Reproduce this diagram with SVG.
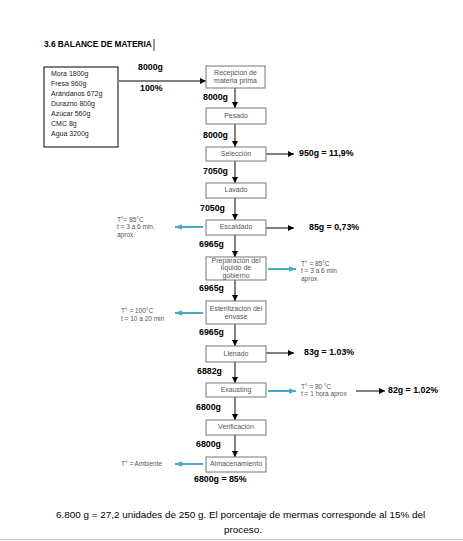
<svg xmlns="http://www.w3.org/2000/svg" width="463" height="541" viewBox="0 0 463 541">
<defs>
<marker id="ah" viewBox="0 0 10 10" refX="10" refY="5" markerWidth="6" markerHeight="6" markerUnits="userSpaceOnUse" orient="auto"><path d="M0,0 L10,5 L0,10 z" fill="#000"/></marker>
<marker id="bh" viewBox="0 0 10 10" refX="10" refY="5" markerWidth="7" markerHeight="7" markerUnits="userSpaceOnUse" orient="auto"><path d="M0,1 L10,5 L0,9 z" fill="#4aa8c8"/></marker>
</defs>
<style>
.box{fill:#fff;stroke:#777;stroke-width:1}
.nt{font-family:"Liberation Sans",Arial,sans-serif;font-size:7px;fill:#555;text-anchor:middle;dominant-baseline:middle}
.lb{font-family:"Liberation Sans",Arial,sans-serif;font-size:8.8px;font-weight:bold;fill:#000;dominant-baseline:middle}
.an{font-family:"Liberation Sans",Arial,sans-serif;font-size:6.5px;fill:#555;dominant-baseline:middle}
.ing{font-family:"Liberation Sans",Arial,sans-serif;font-size:7px;fill:#222;dominant-baseline:middle}
.k{stroke:#000;stroke-width:1;fill:none}
.b{stroke:#4aa8c8;stroke-width:2;fill:none}
</style>
<rect width="463" height="541" fill="#fff"/>
<text x="44" y="45" font-family="Liberation Sans,Arial,sans-serif" font-size="8.3" font-weight="bold" dominant-baseline="middle">3.6 BALANCE DE MATERIA</text>
<line x1="154" y1="39" x2="154" y2="51" stroke="#000" stroke-width="0.8"/>

<g id="ingredientes">
<rect x="44" y="67" width="74" height="80" fill="#fff" stroke="#000" stroke-width="1"/>
<text class="ing" x="51" y="74">Mora 1800g</text>
<text class="ing" x="51" y="84">Fresa 960g</text>
<text class="ing" x="51" y="94">Arándanos 672g</text>
<text class="ing" x="51" y="104">Durazno 800g</text>
<text class="ing" x="51" y="114">Azúcar 560g</text>
<text class="ing" x="51" y="124">CMC 8g</text>
<text class="ing" x="51" y="134">Agua 3200g</text>
</g>

<g id="connectors">
<line class="k" x1="119" y1="81" x2="206" y2="81" marker-end="url(#ah)"/>
<line class="k" x1="235" y1="88" x2="235" y2="108" marker-end="url(#ah)"/>
<line class="k" x1="235" y1="124" x2="235" y2="147" marker-end="url(#ah)"/>
<line class="k" x1="235" y1="161" x2="235" y2="183" marker-end="url(#ah)"/>
<line class="k" x1="235" y1="198" x2="235" y2="220" marker-end="url(#ah)"/>
<line class="k" x1="235" y1="235" x2="235" y2="257" marker-end="url(#ah)"/>
<line class="k" x1="235" y1="280" x2="235" y2="301" marker-end="url(#ah)"/>
<line class="k" x1="235" y1="324" x2="235" y2="346" marker-end="url(#ah)"/>
<line class="k" x1="235" y1="362" x2="235" y2="383" marker-end="url(#ah)"/>
<line class="k" x1="235" y1="397" x2="235" y2="420" marker-end="url(#ah)"/>
<line class="k" x1="235" y1="435" x2="235" y2="457" marker-end="url(#ah)"/>
<line class="k" x1="266" y1="154" x2="294" y2="154" marker-end="url(#ah)"/>
<line class="k" x1="266" y1="228" x2="294" y2="228" marker-end="url(#ah)"/>
<line class="k" x1="266" y1="353" x2="294" y2="353" marker-end="url(#ah)"/>
<line class="k" x1="356" y1="391" x2="385" y2="391" marker-end="url(#ah)"/>
<line class="b" x1="268" y1="269" x2="296" y2="269" marker-end="url(#bh)"/>
<line class="b" x1="268" y1="391" x2="296" y2="391" marker-end="url(#bh)"/>
<line class="b" x1="203" y1="227" x2="175" y2="227" marker-end="url(#bh)"/>
<line class="b" x1="203" y1="313" x2="175" y2="313" marker-end="url(#bh)"/>
<line class="b" x1="203" y1="464" x2="175" y2="464" marker-end="url(#bh)"/>
</g>

<g id="recepcion"><rect class="box" x="206" y="66" width="59" height="22"/><text class="nt" x="235.5" y="73">Recepción de</text><text class="nt" x="235.5" y="81">materia prima</text></g>
<g id="pesado"><rect class="box" x="206" y="108" width="60" height="16"/><text class="nt" x="236" y="116">Pesado</text></g>
<g id="seleccion"><rect class="box" x="206" y="147" width="60" height="14"/><text class="nt" x="236" y="154">Selección</text></g>
<g id="lavado"><rect class="box" x="206" y="183" width="60" height="15"/><text class="nt" x="236" y="190.5">Lavado</text></g>
<g id="escaldado"><rect class="box" x="206" y="220" width="60" height="15"/><text class="nt" x="236" y="227.5">Escaldado</text></g>
<g id="preparacion"><rect class="box" x="206" y="257" width="60" height="23"/><text class="nt" x="236" y="261">Preparación del</text><text class="nt" x="236" y="268.5">líquido de</text><text class="nt" x="236" y="276">gobierno</text></g>
<g id="esterilizacion"><rect class="box" x="206" y="301" width="60" height="23"/><text class="nt" x="236" y="309">Esterilización del</text><text class="nt" x="236" y="317">envase</text></g>
<g id="llenado"><rect class="box" x="206" y="346" width="60" height="16"/><text class="nt" x="236" y="354">Llenado</text></g>
<g id="exausting"><rect class="box" x="206" y="383" width="60" height="14"/><text class="nt" x="236" y="390">Exausting</text></g>
<g id="verificacion"><rect class="box" x="206" y="420" width="60" height="15"/><text class="nt" x="236" y="427.5">Verificación</text></g>
<g id="almacenamiento"><rect class="box" x="206" y="457" width="60" height="15"/><text class="nt" x="236" y="464.5">Almacenamiento</text></g>

<g id="labels">
<text class="lb" x="138" y="68">8000g</text>
<text class="lb" x="140" y="89">100%</text>
<text class="lb" x="203" y="98">8000g</text>
<text class="lb" x="203" y="136">8000g</text>
<text class="lb" x="203" y="172">7050g</text>
<text class="lb" x="200" y="209">7050g</text>
<text class="lb" x="199" y="245">6965g</text>
<text class="lb" x="199" y="289">6965g</text>
<text class="lb" x="199" y="333">6965g</text>
<text class="lb" x="197" y="372">6882g</text>
<text class="lb" x="196" y="408">6800g</text>
<text class="lb" x="196" y="445">6800g</text>
<text class="lb" x="194" y="480">6800g = 85%</text>
<text class="lb" x="299" y="154">950g = 11,9%</text>
<text class="lb" x="309" y="228">85g = 0,73%</text>
<text class="lb" x="304" y="353">83g = 1.03%</text>
<text class="lb" x="388" y="391">82g = 1.02%</text>
<text class="an" x="117" y="220">T°= 85°C</text>
<text class="an" x="117" y="227.5">t = 3 a 6 min.</text>
<text class="an" x="117" y="235">aprox.</text>
<text class="an" x="301" y="264">T° = 85°C</text>
<text class="an" x="301" y="271.5">t = 3 a 6 min</text>
<text class="an" x="301" y="279">aprox</text>
<text class="an" x="121" y="311">T° = 100°C</text>
<text class="an" x="121" y="319">t = 10 a 20 min</text>
<text class="an" x="301" y="387">T° = 80 °C</text>
<text class="an" x="301" y="394.5">t = 1 hora aprox</text>
<text class="an" x="121" y="464">T° = Ambiente</text>
</g>

<text x="56" y="515" font-family="Liberation Sans,Arial,sans-serif" font-size="9.9" dominant-baseline="middle">6.800 g = 27,2 unidades de 250 g. El porcentaje de mermas corresponde al 15% del</text>
<text x="243" y="530" font-family="Liberation Sans,Arial,sans-serif" font-size="9.9" text-anchor="middle" dominant-baseline="middle">proceso.</text>
<line x1="0" y1="539.5" x2="463" y2="539.5" stroke="#ccc" stroke-width="1"/>
</svg>
